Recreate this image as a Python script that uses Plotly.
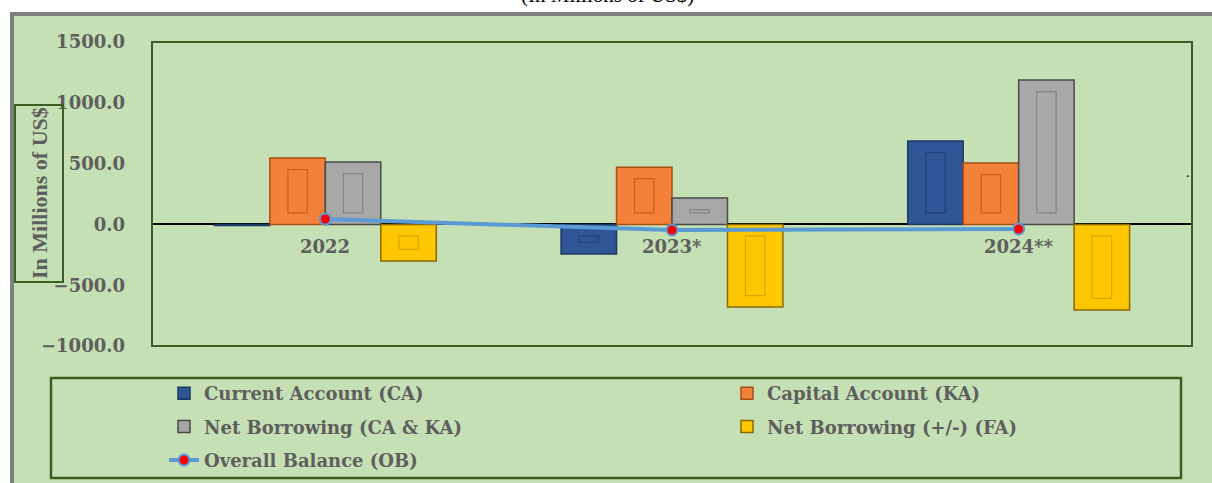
import plotly.graph_objects as go

# Balance of payments summary, in millions of US$
years = ['2022', '2023*', '2024**']
current_account = [-10.0, -243.0, 685.0]
capital_account = [546.0, 471.0, 505.0]
net_borrowing_ca_ka = [513.0, 217.0, 1187.0]
net_borrowing_fa = [-300.0, -680.0, -703.0]
overall_balance = [44.0, -46.0, -38.0]

y_ticks = [-1000, -500, 0, 500, 1000, 1500]

BG = '#C5E0B4'
DARK_GREEN = '#3B5E22'
TEXT_GRAY = '#5E5E5E'
SERIF = 'Liberation Serif, Times New Roman, serif'
WIDE_SERIF = 'DejaVu Serif, serif'

# plot area in pixels (width 1212, height 483)
L, R, T, B = 152, 1192, 42, 346
W, H = 1212, 483


def px_x(px):
    return (px - L) / (R - L)


def px_y(py):
    return (B - py) / (B - T)


fig = go.Figure()

# (name, values, fill, edge, inner panel line, legend column)
bar_series = [
    ('Current Account (CA)', current_account, '#2F5597', '#1F3864', '#22427A', 'legend'),
    ('Capital Account (KA)', capital_account, '#F4813A', '#A84F14', '#C8621F', 'legend2'),
    ('Net Borrowing (CA & KA)', net_borrowing_ca_ka, '#A8A8A8', '#4A4A4A', '#858585', 'legend'),
    ('Net Borrowing (+/-) (FA)', net_borrowing_fa, '#FFC700', '#8A6A00', '#D9A600', 'legend2'),
]

BAR_W = 0.16          # width of one bar, in category units
INNER_W = BAR_W * 0.35
INSET = 95            # bevel inset of the inner panel, in data units

for k, (name, vals, color, edge, inner, leg) in enumerate(bar_series):
    left = -2 * BAR_W + k * BAR_W
    fig.add_trace(go.Bar(
        name=name,
        x=years,
        y=vals,
        width=BAR_W,
        offset=left,
        legend=leg,
        legendgroup=name,
        marker=dict(color=color, line=dict(color=edge, width=1.5)),
        hovertemplate='%{x}<br>' + name + ': %{y:.1f}<extra></extra>',
    ))
    # inner panel of the bevelled bar look
    inner_y, inner_base = [], []
    for v in vals:
        s = 1 if v >= 0 else -1
        if abs(v) > 2 * INSET:
            inner_y.append(v - 2 * s * INSET)
            inner_base.append(s * INSET)
        else:
            inner_y.append(None)
            inner_base.append(0)
    fig.add_trace(go.Bar(
        x=years,
        y=inner_y,
        base=inner_base,
        width=INNER_W,
        offset=left + (BAR_W - INNER_W) / 2,
        legendgroup=name,
        showlegend=False,
        hoverinfo='skip',
        marker=dict(color='rgba(0,0,0,0)', line=dict(color=inner, width=1.2)),
    ))

fig.add_trace(go.Scatter(
    name='Overall Balance (OB)',
    x=years,
    y=overall_balance,
    legend='legend',
    legendgroup='ob',
    mode='lines+markers',
    line=dict(color='#5B9BD5', width=4),
    marker=dict(color='#FF0000', size=11, line=dict(color='#5B9BD5', width=2)),
))

# category labels sit just under the zero line (x given as category index)
for i, yr in enumerate(years):
    fig.add_annotation(
        x=i, y=-185, xref='x', yref='y', text=yr, showarrow=False,
        font=dict(family=WIDE_SERIF, size=18, color=TEXT_GRAY, weight='bold'),
    )

shapes = [
    # outer chart frame
    dict(type='rect', xref='paper', yref='paper', layer='below',
         x0=px_x(12), x1=px_x(1230), y0=px_y(500), y1=px_y(14),
         fillcolor=BG, line=dict(color='#7F7F7F', width=4)),
    # plot area border
    dict(type='rect', xref='paper', yref='paper',
         x0=0, x1=1, y0=0, y1=1, line=dict(color=DARK_GREEN, width=2)),
    # y-axis title box
    dict(type='rect', xref='paper', yref='paper',
         x0=px_x(15), x1=px_x(63), y0=px_y(282), y1=px_y(105),
         line=dict(color=DARK_GREEN, width=2)),
    # legend box
    dict(type='rect', xref='paper', yref='paper',
         x0=px_x(51), x1=px_x(1181), y0=px_y(478), y1=px_y(378),
         line=dict(color=DARK_GREEN, width=2.5)),
]

fig.add_annotation(
    x=px_x(39), y=px_y(193), xref='paper', yref='paper',
    xanchor='center', yanchor='middle',
    text='In Millions of US$', textangle=-90, showarrow=False,
    font=dict(family=SERIF, size=22, color=TEXT_GRAY, weight='bold'),
)
# title mostly cut off by the top edge in the source image
fig.add_annotation(
    x=px_x(607), y=px_y(9), xref='paper', yref='paper',
    xanchor='center', yanchor='bottom',
    text='(In Millions of US$)', showarrow=False,
    font=dict(family=SERIF, size=21, color='#000000'),
)
fig.add_annotation(
    x=px_x(1188), y=px_y(172), xref='paper', yref='paper',
    xanchor='center', yanchor='middle',
    text='.', showarrow=False,
    font=dict(family=SERIF, size=14, color='#000000'),
)

legend_style = dict(
    orientation='v',
    xref='container', yref='container',
    yanchor='top', xanchor='left',
    bgcolor='rgba(0,0,0,0)',
    tracegroupgap=7,
    font=dict(family=WIDE_SERIF, size=18, color=TEXT_GRAY, weight='bold'),
)

fig.update_layout(
    width=W, height=H,
    margin=dict(l=L, r=W - R, t=T, b=H - B, autoexpand=False),
    paper_bgcolor='#FFFFFF',
    plot_bgcolor=BG,
    barmode='overlay',
    shapes=shapes,
    showlegend=True,
    legend=dict(legend_style, x=164 / W, y=1 - 375 / H),
    legend2=dict(legend_style, x=727 / W, y=1 - 375 / H),
    xaxis=dict(type='category', range=[-0.5, 2.5], showticklabels=False,
               showline=False, showgrid=False, zeroline=False, ticks='',
               automargin=False),
    yaxis=dict(
        range=[-1000, 1500], tickvals=y_ticks, tickformat='.1f',
        showgrid=False, zeroline=True, zerolinecolor='#000000', zerolinewidth=1.5,
        showline=False, ticks='', ticklabelstandoff=26, automargin=False,
        tickfont=dict(family=WIDE_SERIF, size=18, color=TEXT_GRAY, weight='bold'),
    ),
)

# drop the default 8px page margin so the figure sits at the window origin
fig.write_html('out.html', config={'displayModeBar': False},
               post_script="document.body.style.margin='0';")
